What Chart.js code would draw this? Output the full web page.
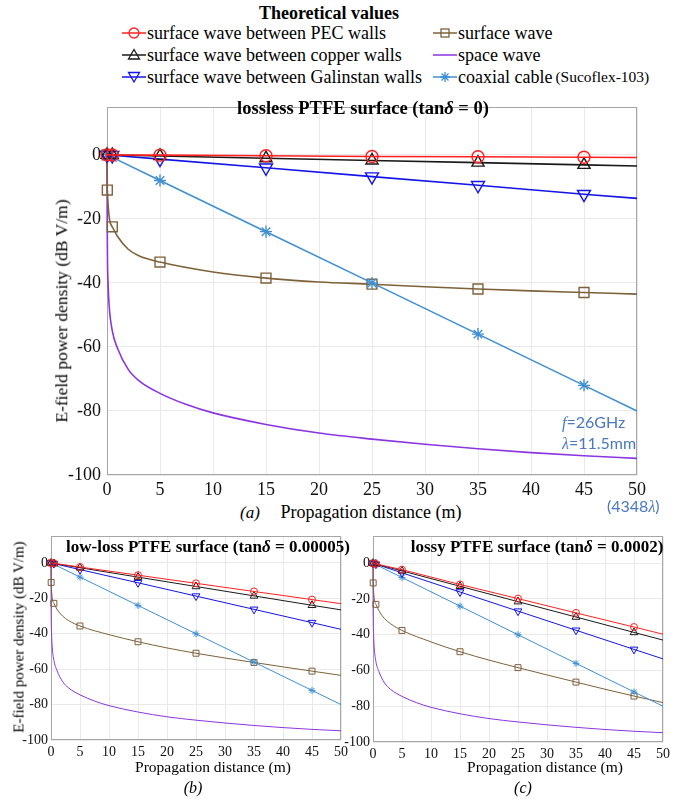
<!DOCTYPE html>
<html>
<head>
<meta charset="utf-8">
<script src="https://cdn.jsdelivr.net/npm/chart.js@4.4.1/dist/chart.umd.min.js"></script>
<style>
  body { margin: 0; background: #fff; }
  #page { position: relative; width: 677px; height: 800px; overflow: hidden; font-family: "Liberation Serif", "Times New Roman", serif; color: #000; }
  .box { position: absolute; }
  .lbl { position: absolute; white-space: nowrap; transform: translate(-50%, -50%); line-height: 1; }
  .rot { transform: translate(-50%, -50%) rotate(-90deg); }
  .leg { position: absolute; white-space: nowrap; font-size: 18px; line-height: 20px; display: flex; align-items: center; }
  .blue { position: absolute; white-space: nowrap; color: #4a78c2; font-family: Lato, "Open Sans", sans-serif; font-size: 16px; line-height: 1; transform: translateY(-50%); }
</style>
</head>
<body>
<div id="page">
  <div class="lbl" style="left:329px;top:13px;font-size:18px;font-weight:bold">Theoretical values</div>
  <div id="legend"></div>

  <div class="box" style="left:0;top:90px;width:677px;height:410px"><canvas id="chartA"></canvas></div>
  <div class="box" style="left:0;top:525px;width:360px;height:240px"><canvas id="chartB"></canvas></div>
  <div class="box" style="left:330px;top:525px;width:347px;height:240px"><canvas id="chartC"></canvas></div>

  <!-- panel (a) texts -->
  <div class="lbl" style="left:363px;top:108px;font-size:18.5px;font-weight:bold">lossless PTFE surface (tan<i>δ</i> = 0)</div>
  <div class="lbl rot" style="left:62px;top:311px;font-size:17.5px">E-field power density (dB V/m)</div>
  <div class="lbl" style="left:250px;top:512px;font-size:17px"><i>(a)</i></div>
  <div class="lbl" style="left:371px;top:512px;font-size:18px">Propagation distance (m)</div>
  <div class="blue" style="left:562px;top:422px"><i style="font-family:'Liberation Serif',serif">f</i>=26GHz</div>
  <div class="blue" style="left:562px;top:443px"><i style="font-family:'Liberation Serif',serif">λ</i>=11.5mm</div>
  <div class="blue" style="left:607px;top:506px">(4348<i style="font-family:'Liberation Serif',serif">λ</i>)</div>

  <!-- panel (b) texts -->
  <div class="lbl" style="left:208px;top:546px;font-size:17px;font-weight:bold">low-loss PTFE surface (tan<i>δ</i> = 0.00005)</div>
  <div class="lbl rot" style="left:19px;top:637px;font-size:15px">E-field power density (dB V/m)</div>
  <div class="lbl" style="left:213px;top:767px;font-size:15.5px">Propagation distance (m)</div>
  <div class="lbl" style="left:193px;top:788px;font-size:16px"><i>(b)</i></div>

  <!-- panel (c) texts -->
  <div class="lbl" style="left:537px;top:546px;font-size:17px;font-weight:bold">lossy PTFE surface (tan<i>δ</i> = 0.0002)</div>
  <div class="lbl" style="left:545px;top:767px;font-size:15.5px">Propagation distance (m)</div>
  <div class="lbl" style="left:523px;top:788px;font-size:16px"><i>(c)</i></div>
</div>

<script>
// axis ticks
const xTicks = [0, 5, 10, 15, 20, 25, 30, 35, 40, 45, 50];
const yTicks = [-100, -80, -60, -40, -20, 0];

// distances (m)
const distLin = [0, 0.5, 5, 15, 25, 35, 45, 50];
const distSurf = [0, 0.03, 0.5, 1, 2, 3, 5, 10, 15, 20, 25, 30, 35, 40, 45, 50];
const distSpace = [0, 0.02, 0.05, 0.1, 0.2, 0.5, 1, 2, 3, 5, 7.5, 10, 15, 20, 25, 30, 35, 40, 45, 50];

// indexes that get a marker
const linMarks = [0, 1, 2, 3, 4, 5, 6];
const surfMarks = [0, 1, 2, 6, 8, 10, 12, 14];

// shared curves (same in all three panels)
const coaxDb = [0, -0.8, -8, -24, -40, -56, -72, -80];
const spaceDb = [0, -22, -34, -40, -47, -55, -60.5, -67, -70.5, -74.5, -78, -80.6, -84.2, -86.9, -88.8, -90.4, -91.8, -93, -94, -94.8];

// (a) lossless
const pecA = [0, -0.05, -0.1, -0.3, -0.5, -0.6, -0.75, -0.85];
const copperA = [0, -0.05, -0.35, -1.05, -1.75, -2.45, -3.15, -3.5];
const galinA = [0, -0.15, -1.35, -4.05, -6.8, -9.5, -12.3, -13.6];
const surfA = [0, -11, -22.5, -25.5, -29.5, -31.5, -33.5, -36.6, -38.5, -39.7, -40.4, -41.2, -41.9, -42.5, -43, -43.5];

// (b) low-loss
const pecB = [0, -0.2, -2.3, -6.9, -11.5, -16.1, -20.7, -23];
const copperB = [0, -0.27, -2.7, -8, -13.3, -18.6, -23.9, -26.5];
const galinB = [0, -0.37, -3.75, -11.2, -18.7, -26.2, -33.7, -37.5];
const surfB = [0, -11, -22.8, -26, -30, -32.5, -35.6, -40.5, -44.5, -48, -51, -53.7, -56.2, -58.7, -61.1, -63.5];

// (c) lossy
const pecC = [0, -0.4, -3.6, -11.9, -19.8, -27.8, -35.7, -39.7];
const copperC = [0, -0.43, -4.3, -12.9, -21.5, -30.1, -38.7, -43];
const galinC = [0, -0.54, -5.4, -16.1, -26.8, -37.5, -48.2, -53.5];
const surfC = [0, -11, -23, -26.5, -31, -33.8, -37.6, -44, -49.5, -54.2, -58.4, -62.5, -66.5, -70.5, -74.3, -78];

const seriesInfo = {
  pec:    { name: 'surface wave between PEC walls', color: '#ff2020', marker: 'circle' },
  copper: { name: 'surface wave between copper walls', color: '#1a1a1a', marker: 'triangle' },
  galin:  { name: 'surface wave between Galinstan walls', color: '#1414e6', marker: 'triangleDown' },
  surf:   { name: 'surface wave', color: '#7d6139', marker: 'rect' },
  space:  { name: 'space wave', color: '#8a35e0', marker: null },
  coax:   { name: 'coaxial cable', color: '#3f8fd2', marker: 'star' }
};

// ---- legend (html + small svg icons)
const markerSvg = (m, c) => {
  if (m === 'circle') return `<circle cx="12" cy="8" r="5" fill="none" stroke="${c}" stroke-width="1.3"/>`;
  if (m === 'triangle') return `<polygon points="12,2.5 17.5,12 6.5,12" fill="none" stroke="${c}" stroke-width="1.3"/>`;
  if (m === 'triangleDown') return `<polygon points="6.5,3.5 17.5,3.5 12,13" fill="none" stroke="${c}" stroke-width="1.3"/>`;
  if (m === 'rect') return `<rect x="8" y="4" width="8" height="8" fill="none" stroke="${c}" stroke-width="1.3"/>`;
  if (m === 'star') return `<path d="M12 3V13M7 8H17M8.5 4.5L15.5 11.5M15.5 4.5L8.5 11.5" stroke="${c}" stroke-width="1.3"/>`;
  return '';
};
const legendRows = [
  ['pec', 122, 33], ['copper', 122, 55], ['galin', 122, 77],
  ['surf', 433, 33], ['space', 433, 55], ['coax', 433, 77]
];
const legendEl = document.getElementById('legend');
legendRows.forEach(([key, x, y]) => {
  const s = seriesInfo[key];
  const extra = key === 'coax' ? ' <span style="font-size:15.5px;margin-left:3px">(Sucoflex-103)</span>' : '';
  const d = document.createElement('div');
  d.className = 'leg';
  d.style.left = x + 'px';
  d.style.top = (y - 10) + 'px';
  d.innerHTML = `<svg width="24" height="16" style="margin-right:1px"><line x1="0" y1="8" x2="24" y2="8" stroke="${s.color}" stroke-width="1.5"/>${markerSvg(s.marker, s.color)}</svg>${s.name}${extra}`;
  legendEl.appendChild(d);
});

// ---- charts
const framePlugin = {
  id: 'frame',
  beforeDatasetsDraw(chart) {
    const a = chart.chartArea, ctx = chart.ctx;
    ctx.save();
    ctx.strokeStyle = '#a6a6a6';
    ctx.lineWidth = 1;
    ctx.strokeRect(Math.round(a.left) + 0.5, Math.round(a.top) + 0.5, Math.round(a.width) - 1, Math.round(a.height) - 1);
    ctx.restore();
  }
};

const makeSet = (key, xs, ys, marks, sz) => {
  const s = seriesInfo[key];
  const style = s.marker === 'triangleDown' ? 'triangle' : (s.marker || 'circle');
  const r = s.marker ? sz.r[s.marker] : 0;
  return {
    label: s.name,
    data: xs.map((x, i) => ({ x: x, y: ys[i] })),
    borderColor: s.color,
    borderWidth: sz.line,
    pointStyle: style,
    pointRotation: s.marker === 'triangleDown' ? 180 : 0,
    pointRadius: ctx => (marks.includes(ctx.dataIndex) ? r : 0),
    pointHoverRadius: 0,
    pointBorderColor: s.color,
    pointBackgroundColor: 'rgba(0,0,0,0)',
    pointBorderWidth: sz.mline,
    cubicInterpolationMode: (key === 'surf' || key === 'space') ? 'monotone' : 'default',
    tension: 0,
    clip: false
  };
};

function buildChart(id, d, sz) {
  const datasets = [
    makeSet('pec', distLin, d.pec, linMarks, sz),
    makeSet('copper', distLin, d.copper, linMarks, sz),
    makeSet('galin', distLin, d.galin, linMarks, sz),
    makeSet('coax', distLin, coaxDb, linMarks, sz),
    makeSet('surf', distSurf, d.surf, surfMarks, sz),
    makeSet('space', distSpace, spaceDb, [], sz)
  ];
  const tickFont = { family: '"Liberation Serif", "Times New Roman", serif', size: sz.font };
  return new Chart(document.getElementById(id), {
    type: 'line',
    data: { datasets: datasets },
    plugins: [framePlugin],
    options: {
      responsive: true,
      maintainAspectRatio: false,
      animation: false,
      layout: { padding: sz.pad },
      plugins: { legend: { display: false }, tooltip: { enabled: false } },
      scales: {
        x: {
          type: 'linear', min: 0, max: 50,
          afterBuildTicks: sc => { sc.ticks = xTicks.map(v => ({ value: v })); },
          afterFit: sc => { sc.height = sz.xh; },
          ticks: { font: tickFont, color: '#111', padding: sz.xpad, autoSkip: false, maxRotation: 0 },
          grid: { color: '#e9e9e9', drawTicks: false },
          border: { display: false }
        },
        y: {
          type: 'linear', min: -100, max: 15,
          afterBuildTicks: sc => { sc.ticks = yTicks.map(v => ({ value: v })); },
          afterFit: sc => { sc.width = sz.yw; },
          ticks: { font: tickFont, color: '#111', padding: sz.ypad },
          grid: { color: '#e9e9e9', drawTicks: false },
          border: { display: false }
        }
      }
    }
  });
}

buildChart('chartA', { pec: pecA, copper: copperA, galin: galinA, surf: surfA }, {
  pad: { top: 5, right: 40, left: 0, bottom: 0 }, yw: 107, xh: 25, font: 18, xpad: 4, ypad: 6,
  line: 1.6, mline: 1.4, r: { circle: 6, triangle: 7, triangleDown: 7.5, rect: 7, star: 6 }
});
buildChart('chartB', { pec: pecB, copper: copperB, galin: galinB, surf: surfB }, {
  pad: { top: 6, right: 19, left: 0, bottom: 0 }, yw: 51, xh: 25, font: 14, xpad: 4, ypad: 3,
  line: 1, mline: 1, r: { circle: 3.5, triangle: 4.5, triangleDown: 4.5, rect: 4.2, star: 3.5 }
});
buildChart('chartC', { pec: pecC, copper: copperC, galin: galinC, surf: surfC }, {
  pad: { top: 7, right: 14, left: 0, bottom: 0 }, yw: 43, xh: 23, font: 14, xpad: 4, ypad: 3,
  line: 1, mline: 1, r: { circle: 3.5, triangle: 4.5, triangleDown: 4.5, rect: 4.2, star: 3.5 }
});
</script>
</body>
</html>
